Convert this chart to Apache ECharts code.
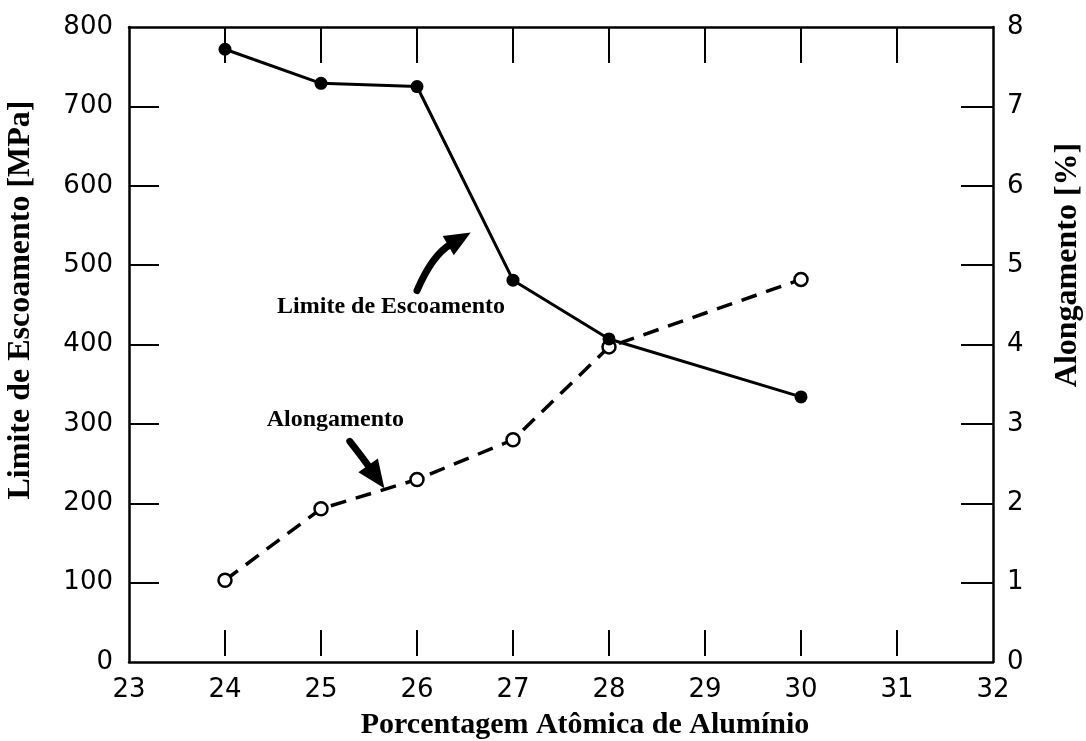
<!DOCTYPE html>
<html>
<head>
<meta charset="utf-8">
<script src="https://cdn.jsdelivr.net/npm/echarts@6/dist/echarts.min.js"></script>
<style>html,body{margin:0;padding:0;background:#fff;}#c{width:1086px;height:741px;}</style>
</head>
<body>
<div id="c"></div>
<script>
// ---- data ----
const aluminio = [24, 25, 26, 27, 28, 30];
const limiteEscoamento = [772, 729, 725, 481, 407, 334];   // MPa (left axis)
const alongamento = [1.03, 1.93, 2.30, 2.80, 3.97, 4.82];   // % (right axis)
const xTicks = [24, 25, 26, 27, 28, 29, 30, 31];
const leftTicks = [100, 200, 300, 400, 500, 600, 700];
const rightTicks = [1, 2, 3, 4, 5, 6, 7];
// annotation anchors in data units (x, MPa)
const limiteLabel = [25.73, 447];
const limiteArrow = [[26.0, 468], [26.16, 513], [26.56, 541]];
const alongLabel = [25.15, 305];
const alongArrow = [[25.30, 278], [25.43, 258], [25.66, 219]];

const chart = echarts.init(document.getElementById('c'));
const tickFont = {fontFamily: 'DejaVu Sans', fontSize: 26, color: '#000'};
const titleFont = 'Liberation Serif';
const axLine = {show: true, lineStyle: {color: '#000', width: 2.5}};

chart.setOption({
  backgroundColor: '#fff',
  animation: false,
  grid: {left: 129, right: 93, top: 27, bottom: 79, containLabel: false},
  xAxis: [
    {type: 'value', position: 'bottom', min: 23, max: 32, interval: 1,
     axisLine: axLine, axisTick: {show: false}, splitLine: {show: false},
     axisLabel: Object.assign({margin: 15}, tickFont)},
    {type: 'value', position: 'bottom', offset: -6, min: 23, max: 32, interval: 1,
     axisLine: {show: false}, splitLine: {show: false}, axisLabel: {show: false},
     axisTick: {show: true, inside: true, length: 26, customValues: xTicks, lineStyle: {color: '#000', width: 2}}},
    {type: 'value', position: 'top', min: 23, max: 32, interval: 1,
     axisLine: axLine, splitLine: {show: false}, axisLabel: {show: false},
     axisTick: {show: true, inside: true, length: 36, customValues: xTicks, lineStyle: {color: '#000', width: 2}}}
  ],
  yAxis: [
    {type: 'value', position: 'left', min: 0, max: 800, interval: 100,
     axisLine: axLine, splitLine: {show: false},
     axisTick: {show: true, inside: true, length: 30, customValues: leftTicks, lineStyle: {color: '#000', width: 2}},
     axisLabel: Object.assign({margin: 16}, tickFont)},
    {type: 'value', position: 'right', min: 0, max: 8, interval: 1,
     axisLine: axLine, splitLine: {show: false},
     axisTick: {show: true, inside: true, length: 32, customValues: rightTicks, lineStyle: {color: '#000', width: 2}},
     axisLabel: Object.assign({margin: 14}, tickFont)}
  ],
  series: [
    {name: 'Limite de Escoamento', type: 'line', xAxisIndex: 0, yAxisIndex: 0,
     data: aluminio.map((x, i) => [x, limiteEscoamento[i]]),
     symbol: 'circle', symbolSize: 13,
     itemStyle: {color: '#000'},
     lineStyle: {color: '#000', width: 3}, z: 3},
    {name: 'Alongamento', type: 'line', xAxisIndex: 0, yAxisIndex: 1,
     data: aluminio.map((x, i) => [x, alongamento[i]]),
     symbol: 'circle', symbolSize: 13,
     itemStyle: {color: '#fff', borderColor: '#000', borderWidth: 2.5},
     lineStyle: {color: '#000', width: 3.5, type: [16, 10]}, z: 2}
  ]
});

function px(p) { return chart.convertToPixel({xAxisIndex: 0, yAxisIndex: 0}, p); }

function arrow(pts, width, headLen, headW) {
  const a = px(pts[0]), c = px(pts[1]), t = px(pts[2]);
  let dx = t[0] - c[0], dy = t[1] - c[1];
  const L = Math.hypot(dx, dy); dx /= L; dy /= L;
  const bx = t[0] - dx * headLen, by = t[1] - dy * headLen;
  const nx = -dy, ny = dx;
  return [
    {type: 'bezierCurve', shape: {x1: a[0], y1: a[1], cpx1: c[0], cpy1: c[1], x2: bx + dx * 3, y2: by + dy * 3},
     style: {stroke: '#000', lineWidth: width, fill: null, lineCap: 'round'}, z: 10},
    {type: 'polygon', shape: {points: [[t[0], t[1]], [bx + nx * headW / 2, by + ny * headW / 2], [bx - nx * headW / 2, by - ny * headW / 2]]},
     style: {fill: '#000'}, z: 10}
  ];
}

const lp = px(limiteLabel), ap = px(alongLabel);
const graphics = [
  {type: 'text', x: lp[0], y: lp[1], style: {text: 'Limite de Escoamento', font: 'bold 24px "' + titleFont + '"', fill: '#000', align: 'center', verticalAlign: 'middle'}, z: 10},
  {type: 'text', x: ap[0], y: ap[1], style: {text: 'Alongamento', font: 'bold 24px "' + titleFont + '"', fill: '#000', align: 'center', verticalAlign: 'middle'}, z: 10},
  {type: 'text', x: 585, y: 725, style: {text: 'Porcentagem Atômica de Alumínio', font: 'bold 30px "' + titleFont + '"', fill: '#000', align: 'center', verticalAlign: 'middle'}, z: 10},
  {type: 'text', x: 21, y: 300, rotation: Math.PI / 2, style: {text: 'Limite de Escoamento [MPa]', font: 'bold 32px "' + titleFont + '"', fill: '#000', align: 'center', verticalAlign: 'middle'}, z: 10},
  {type: 'text', x: 1068, y: 265, rotation: Math.PI / 2, style: {text: 'Alongamento [%]', font: 'bold 32px "' + titleFont + '"', fill: '#000', align: 'center', verticalAlign: 'middle'}, z: 10}
].concat(arrow(limiteArrow, 7, 26, 22)).concat(arrow(alongArrow, 7, 28, 24));

chart.setOption({graphic: graphics});
</script>
</body>
</html>
